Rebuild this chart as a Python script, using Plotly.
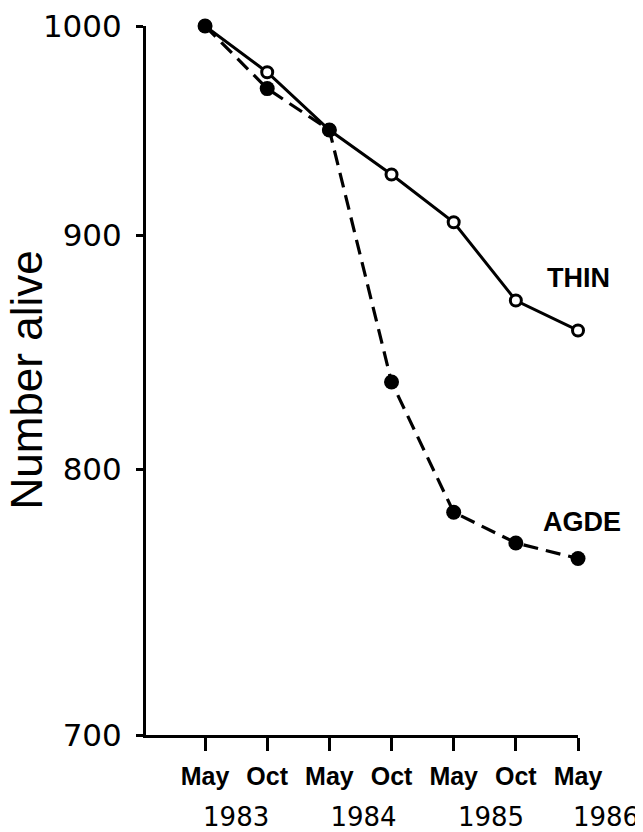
import math
import plotly.graph_objects as go

# ---- data ----
periods = ["May 1983", "Oct 1983", "May 1984", "Oct 1984", "May 1985", "Oct 1985", "May 1986"]
month_labels = ["May", "Oct", "May", "Oct", "May", "Oct", "May"]
year_labels = ["1983", "1984", "1985", "1986"]
thin_alive = [1000, 977, 949, 928, 906, 871, 858]
agde_alive = [1000, 969, 949, 836, 783, 771, 765]
y_ticks = [700, 800, 900, 1000]

x_idx = list(range(len(periods)))
year_pos = [0.5, 2.55, 4.6, 6.45]

# ---- geometry (page body has an 8px margin; keep figure inside the window) ----
W, H = 635, 824
L, R, T, B = 138, 3, 18, 97
plot_w = W - L - R
px_per_unit = 62.16
x0 = -0.95
x_end_main = 6
main_frac = (x_end_main - x0) * px_per_unit / plot_w
x_end_full = x0 + plot_w / px_per_unit

NUM_FONT = "DejaVu Sans"
TXT_FONT = "Liberation Sans, Arial, sans-serif"

fig = go.Figure()

fig.add_trace(go.Scatter(
    x=x_idx, y=thin_alive, mode="lines+markers", name="THIN",
    line=dict(color="black", width=3),
    marker=dict(symbol="circle", size=11, color="white",
                line=dict(color="black", width=3)),
    cliponaxis=False, showlegend=False, hovertext=periods,
))
fig.add_trace(go.Scatter(
    x=x_idx, y=agde_alive, mode="lines+markers", name="AGDE",
    line=dict(color="black", width=3.2, dash="15px,8px"),
    marker=dict(symbol="circle", size=15, color="black",
                line=dict(color="black", width=0)),
    cliponaxis=False, showlegend=False, hovertext=periods,
))
# empty trace to create the year-label axis subplot
fig.add_trace(go.Scatter(x=[], y=[], xaxis="x2", yaxis="y", showlegend=False))

ylog_range = [math.log10(700), math.log10(1000)]

fig.update_layout(
    width=W, height=H,
    margin=dict(l=L, r=R, t=T, b=B, autoexpand=False),
    paper_bgcolor="white", plot_bgcolor="rgba(0,0,0,0)",
    xaxis=dict(
        domain=[0, main_frac], range=[x0, x_end_main],
        tickmode="array", tickvals=x_idx,
        ticktext=["<b>%s</b>" % m for m in month_labels],
        tickfont=dict(family=TXT_FONT, size=25, color="black"),
        ticks="outside", ticklen=13, tickwidth=3, tickcolor="black",
        showline=True, linewidth=3, linecolor="black",
        showgrid=False, zeroline=False, anchor="y", automargin=False,
        ticklabelstandoff=4, ticklabeloverflow="allow",
    ),
    xaxis3=dict(
        overlaying="x", domain=[0, main_frac], range=[x0, x_end_main],
        tickmode="array", tickvals=x_idx, showticklabels=False,
        ticks="inside", ticklen=13, tickwidth=3, tickcolor="black",
        showline=False, showgrid=False, zeroline=False, anchor="y",
        automargin=False,
    ),
    xaxis2=dict(
        domain=[0, 1], range=[x0, x_end_full], anchor="y",
        tickmode="array", tickvals=year_pos, ticktext=year_labels,
        tickfont=dict(family=NUM_FONT, size=26, color="black"),
        ticks="", showline=False, showgrid=False, zeroline=False,
        side="bottom", ticklabelstandoff=64, automargin=False,
        ticklabeloverflow="allow",
    ),
    yaxis=dict(
        type="log", range=ylog_range, domain=[0, 1],
        tickmode="array", tickvals=y_ticks, ticktext=[str(v) for v in y_ticks],
        tickfont=dict(family=NUM_FONT, size=31, color="black"),
        ticks="outside", ticklen=7, tickwidth=3, tickcolor="black",
        showline=True, linewidth=3, linecolor="black",
        showgrid=False, zeroline=False, anchor="x", automargin=False,
        ticklabelstandoff=8, ticklabeloverflow="allow",
    ),
    yaxis2=dict(
        type="log", range=ylog_range, overlaying="y", anchor="x",
        tickmode="array", tickvals=y_ticks, showticklabels=False,
        ticks="inside", ticklen=7, tickwidth=3, tickcolor="black",
        showline=False, showgrid=False, zeroline=False, automargin=False,
    ),
    annotations=[
        dict(text="Number alive", textangle=-90, xref="paper", yref="paper",
             x=0, y=0.5, xanchor="center", yanchor="middle", xshift=-120,
             showarrow=False, font=dict(family=TXT_FONT, size=44, color="black")),
        dict(text="<b>THIN</b>", xref="x2", yref="y", x=x_idx[-1],
             y=math.log10(881), showarrow=False,
             font=dict(family=TXT_FONT, size=27, color="black")),
        dict(text="<b>AGDE</b>", xref="x2", yref="y", x=x_idx[-1] + 0.06,
             y=math.log10(779), showarrow=False,
             font=dict(family=TXT_FONT, size=27, color="black")),
    ],
)

fig.write_html("out.html")
